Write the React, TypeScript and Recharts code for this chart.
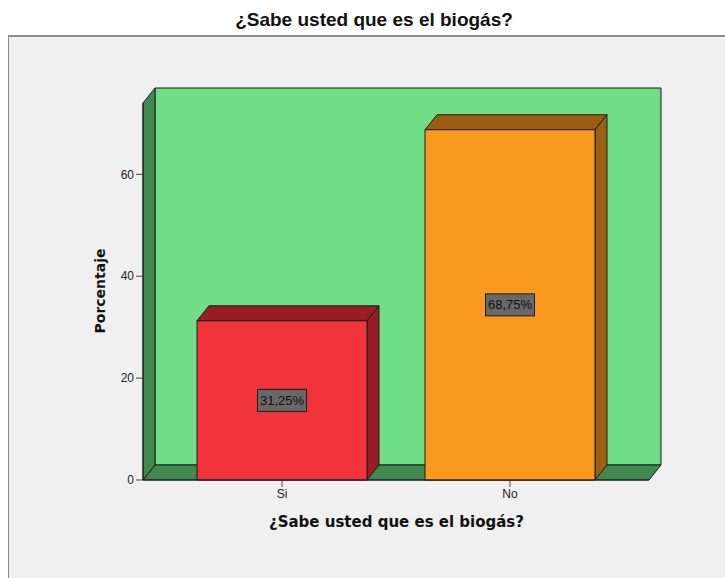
import React from 'react'
import { ComposedChart, Bar, XAxis, YAxis, ReferenceArea, LabelList } from 'recharts'

// ¿Sabe usted que es el biogás? — barras 3D estilo SPSS

const categories = ['Si', 'No']
const percentages = [31.25, 68.75]
const yTicks = [0, 20, 40, 60]
const yMax = 74
const title = '¿Sabe usted que es el biogás?'

const data = categories.map((cat, i) => ({ cat, pct: percentages[i] }))

// profundidad del efecto 3D
const DX = 12
const DY = -15
const PAD = 25 // padding del eje X (la ReferenceArea no lo incluye)
const FRONT = ['#f1333b', '#f99a1f']
const SHADE = ['#961f23', '#9b5f13']
const EDGE = '#1c1c1c'

function Bar3D(props: any) {
  const { x, y, width, height, index } = props
  const f = FRONT[index]
  const s = SHADE[index]
  return (
    <g stroke={EDGE} strokeWidth={1} strokeLinejoin="round">
      <polygon
        points={`${x},${y} ${x + DX},${y + DY} ${x + width + DX},${y + DY} ${x + width},${y}`}
        fill={s}
      />
      <polygon
        points={`${x + width},${y} ${x + width + DX},${y + DY} ${x + width + DX},${y + height + DY} ${x + width},${y + height}`}
        fill={s}
      />
      <rect x={x} y={y} width={width} height={height} fill={f} />
    </g>
  )
}

function Walls(props: any) {
  const { y, height } = props
  const x = props.x - PAD
  const width = props.width + 2 * PAD
  const b = y + height
  const r = x + width
  return (
    <g stroke={EDGE} strokeWidth={1} strokeLinejoin="round">
      <rect x={x + DX} y={y + DY} width={width} height={height} fill="#70de86" />
      <polygon
        points={`${x},${b} ${x + DX},${b + DY} ${r + DX},${b + DY} ${r},${b}`}
        fill="#40894f"
      />
      <polygon
        points={`${x},${y} ${x + DX},${y + DY} ${x + DX},${b + DY} ${x},${b}`}
        fill="#40894f"
      />
    </g>
  )
}

function ValueTag(props: any) {
  const { x, y, width, height, value } = props
  const cx = x + width / 2
  const cy = y + height / 2
  const w = 49
  const h = 22
  return (
    <g>
      <rect x={cx - w / 2} y={cy - h / 2} width={w} height={h} fill="#686868" stroke={EDGE} />
      <text
        x={cx}
        y={cy + 4.5}
        textAnchor="middle"
        fontSize={13}
        fill="#111"
        fontFamily="'Liberation Sans', Arial, sans-serif"
      >
        {Number(value).toFixed(2).replace('.', ',')}%
      </text>
    </g>
  )
}

const tickStyle = { fill: '#222', fontSize: 12, fontFamily: "'Liberation Sans', Arial, sans-serif" }

export default function App() {
  return (
    <div style={{ position: 'fixed', left: 0, top: 0, width: 725, height: 578, overflow: 'hidden', background: '#fff' }}>
      <div
        style={{
          position: 'absolute',
          left: 8,
          top: 35,
          width: 740,
          height: 560,
          background: '#f0f0f0',
          borderTop: '2px solid #8c8c8c',
          borderLeft: '1px solid #8c8c8c',
        }}
      />
      <div
        style={{
          position: 'absolute',
          left: 0,
          top: 9,
          width: 748,
          textAlign: 'center',
          fontFamily: "'Liberation Sans', Arial, sans-serif",
          fontWeight: 'bold',
          fontSize: 19,
          color: '#111',
        }}
      >
        {title}
      </div>
      <div style={{ position: 'absolute', left: 0, top: 0 }}>
        <ComposedChart
          width={725}
          height={578}
          data={data}
          margin={{ top: 103, right: 76, bottom: 68, left: 103 }}
        >
          <ReferenceArea y1={0} y2={yMax} shape={Walls} ifOverflow="visible" />
          <XAxis
            dataKey="cat"
            height={30}
            padding={{ left: PAD, right: PAD }}
            tick={tickStyle}
            tickSize={7}
            axisLine={{ stroke: EDGE }}
            tickLine={{ stroke: '#444' }}
          />
          <YAxis
            width={40}
            domain={[0, yMax]}
            ticks={yTicks}
            tick={tickStyle}
            tickSize={7}
            axisLine={{ stroke: EDGE }}
            tickLine={{ stroke: '#444' }}
          />
          <Bar dataKey="pct" barSize={170} shape={Bar3D} isAnimationActive={false}>
            <LabelList dataKey="pct" content={ValueTag} />
          </Bar>
        </ComposedChart>
      </div>
      <div
        style={{
          position: 'absolute',
          left: 100,
          top: 291,
          transform: 'translate(-50%, -50%) rotate(-90deg)',
          fontFamily: "'DejaVu Sans', sans-serif",
          fontWeight: 'bold',
          fontSize: 14,
          color: '#111',
          whiteSpace: 'nowrap',
        }}
      >
        Porcentaje
      </div>
      <div
        style={{
          position: 'absolute',
          left: 0,
          top: 513,
          width: 793,
          textAlign: 'center',
          fontFamily: "'DejaVu Sans', sans-serif",
          fontWeight: 'bold',
          fontSize: 15,
          color: '#111',
        }}
      >
        {title}
      </div>
    </div>
  )
}
